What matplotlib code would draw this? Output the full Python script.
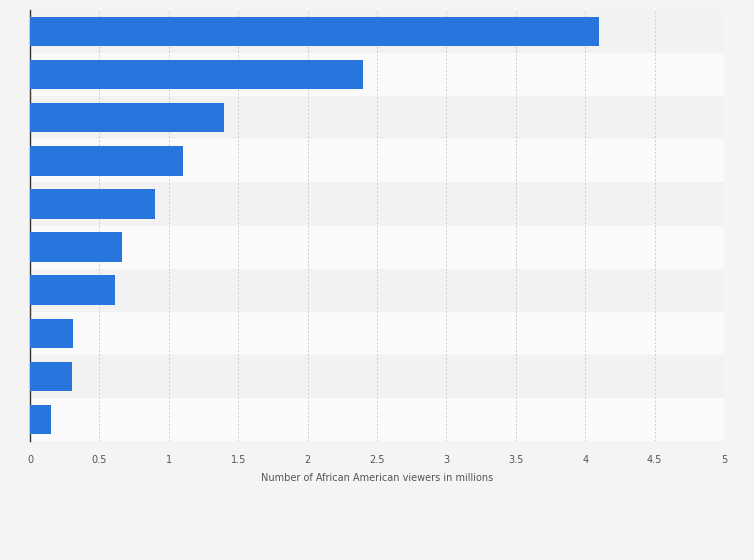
import matplotlib
matplotlib.use("Agg")
import matplotlib.pyplot as plt

values = [4.1, 2.4, 1.4, 1.1, 0.9, 0.66, 0.61, 0.31, 0.30, 0.15]
xticks = [0, 0.5, 1, 1.5, 2, 2.5, 3, 3.5, 4, 4.5, 5]
xlabel = "Number of African American viewers in millions"

fig = plt.figure(figsize=(7.54, 5.60), dpi=100)
fig.patch.set_facecolor("#f4f4f4")
ax = fig.add_axes([30/754, 1-441/560, 694/754, 431/560])
ax.set_facecolor("#f4f4f4")
n = len(values)
for i in range(n):
    ax.axhspan(i - 0.5, i + 0.5, color="#fafafa" if i % 2 else "#f2f2f2", zorder=0, lw=0)
ax.barh(range(n), values, height=0.68, color="#2876dd", zorder=3)
ax.set_ylim(n - 0.5, -0.5)
ax.set_xlim(0, 5)
ax.set_xticks(xticks)
ax.set_xticklabels([f"{t:g}" for t in xticks], fontsize=7, color="#555555")
ax.set_yticks([])
ax.tick_params(axis="x", length=0, pad=10)
ax.grid(axis="x", color="#cccccc", linestyle=(0, (2, 2)), lw=0.7, zorder=1)
for s in ["top", "right", "bottom"]:
    ax.spines[s].set_visible(False)
ax.spines["left"].set_color("#333333")
ax.spines["left"].set_linewidth(1)
ax.set_xlabel(xlabel, fontsize=7, color="#555555", labelpad=6)
fig.savefig("out.png", dpi=100, facecolor=fig.get_facecolor())
